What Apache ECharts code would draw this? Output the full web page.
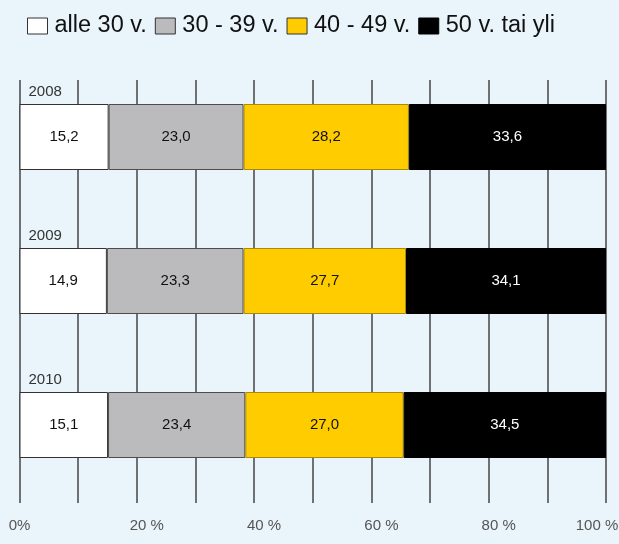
<!DOCTYPE html>
<html>
<head>
<meta charset="utf-8">
<script src="https://cdn.jsdelivr.net/npm/echarts@6/dist/echarts.min.js"></script>
<style>
  html, body { margin: 0; padding: 0; background: #e9f4fb; }
  #chart { width: 619px; height: 544px; }
</style>
</head>
<body>
<div id="chart"></div>
<script>
// Age distribution by year, shares in percent
const years = ['2008', '2009', '2010'];
const seriesNames = ['alle 30 v.', '30 - 39 v.', '40 - 49 v.', '50 v. tai yli'];
const under30 = [15.2, 14.9, 15.1];
const age30to39 = [23.0, 23.3, 23.4];
const age40to49 = [28.2, 27.7, 27.0];
const age50plus = [33.6, 34.1, 34.5];
const percentTicks = [0, 20, 40, 60, 80, 100];

const FONT = '"Liberation Sans", Arial, Helvetica, sans-serif';
const fmt = v => v.toFixed(1).replace('.', ',');

const styles = [
  { color: '#ffffff', borderColor: '#333333', text: '#111111' },
  { color: '#bbbbbd', borderColor: '#4d4d4d', text: '#111111' },
  { color: '#ffcc00', borderColor: '#a88a10', text: '#111111' },
  { color: '#000000', borderColor: '#000000', text: '#ffffff' }
];
const values = [under30, age30to39, age40to49, age50plus];

const series = values.map((vals, i) => ({
  name: seriesNames[i],
  type: 'bar',
  stack: 'total',
  xAxisIndex: 1,
  yAxisIndex: 1,
  barWidth: 66,
  data: vals,
  itemStyle: {
    color: styles[i].color,
    borderColor: styles[i].borderColor,
    borderWidth: 1
  },
  label: {
    show: true,
    position: 'inside',
    fontFamily: FONT,
    fontSize: 15,
    color: styles[i].text,
    formatter: p => fmt(p.value)
  },
  emphasis: { disabled: true }
}));

// Tick label text: number centred on its line, the last one kept inside the frame
function percentLabel(v) {
  if (percentTicks.indexOf(v) < 0) return '';
  if (v === 0) return '0%';
  if (v === 100) return v + ' %{padR|}';
  return '{padL|}' + v + ' %';
}

const chart = echarts.init(document.getElementById('chart'), null, { renderer: 'canvas' });
chart.setOption({
  backgroundColor: '#e9f4fb',
  animation: false,
  legend: {
    left: 22,
    top: 9,
    icon: 'rect',
    itemWidth: 20,
    itemHeight: 16,
    itemGap: 8,
    textStyle: { fontFamily: FONT, fontSize: 23.5, color: '#111111', padding: [0, 0, 0, 2] },
    data: seriesNames.map((n, i) => ({
      name: n,
      icon: 'rect',
      itemStyle: { color: styles[i].color, borderColor: i === 3 ? '#000' : '#333', borderWidth: 1 }
    })),
    selectedMode: false
  },
  grid: [
    // vertical reference lines every 10 %
    { left: 19.5, right: 13, top: 80, bottom: 41, outerBoundsMode: 'none', containLabel: false },
    // stacked bars
    { left: 19.5, right: 13, top: 65, bottom: 47, outerBoundsMode: 'none', containLabel: false }
  ],
  xAxis: [
    {
      gridIndex: 0,
      type: 'value',
      min: 0,
      max: 100,
      interval: 10,
      axisLine: { show: false },
      axisTick: { show: false },
      splitLine: { show: true, lineStyle: { color: '#454545', width: 1.5 } },
      axisLabel: {
        margin: 15,
        fontFamily: FONT,
        fontSize: 15,
        color: '#555555',
        formatter: percentLabel,
        rich: { padL: { width: 20 }, padR: { width: 18 } }
      }
    },
    {
      gridIndex: 1,
      type: 'value',
      min: 0,
      max: 100,
      show: false
    }
  ],
  yAxis: [
    {
      gridIndex: 0,
      type: 'category',
      data: years,
      show: false
    },
    {
      gridIndex: 1,
      type: 'category',
      data: years,
      inverse: true,
      axisLine: { show: false },
      axisTick: { show: false },
      splitLine: { show: false },
      axisLabel: {
        inside: true,
        margin: 9,
        fontFamily: FONT,
        fontSize: 15,
        color: '#333333',
        verticalAlign: 'bottom',
        padding: [0, 0, 38, 0]
      }
    }
  ],
  series: series
});
</script>
</body>
</html>
